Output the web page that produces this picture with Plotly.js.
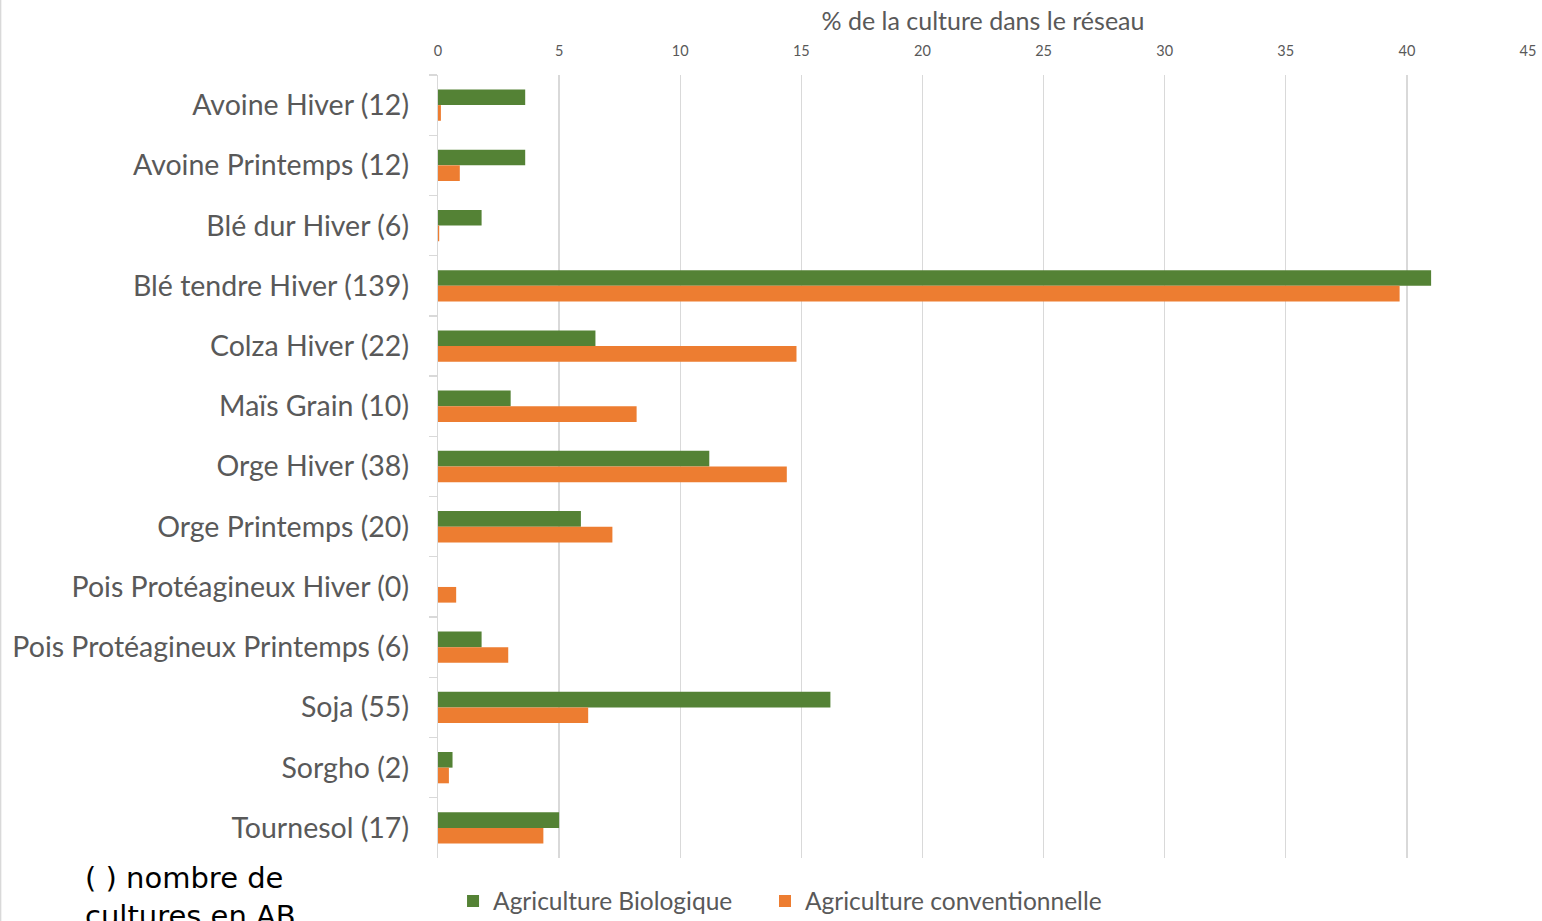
<!DOCTYPE html>
<html>
<head>
<meta charset="utf-8">
<script src="https://cdn.plot.ly/plotly-3.0.1.min.js"></script>
<style>html,body{margin:0;padding:0;background:#fff;}#chart{width:1542px;height:921px;}</style>
</head>
<body>
<div id="chart"></div>
<script>
const categories = [
  "Avoine Hiver (12)",
  "Avoine Printemps (12)",
  "Blé dur Hiver (6)",
  "Blé tendre Hiver (139)",
  "Colza Hiver (22)",
  "Maïs Grain (10)",
  "Orge Hiver (38)",
  "Orge Printemps (20)",
  "Pois Protéagineux Hiver (0)",
  "Pois Protéagineux Printemps (6)",
  "Soja (55)",
  "Sorgho (2)",
  "Tournesol (17)"
];
const bioValues = [3.6, 3.6, 1.8, 41.0, 6.5, 3.0, 11.2, 5.9, 0, 1.8, 16.2, 0.6, 5.0];
const convValues = [0.12, 0.9, 0.05, 39.7, 14.8, 8.2, 14.4, 7.2, 0.75, 2.9, 6.2, 0.45, 4.35];
const seriesNames = ["Agriculture Biologique", "Agriculture conventionnelle"];
const xTicks = [0, 5, 10, 15, 20, 25, 30, 35, 40, 45];

const traces = [
  {type: "bar", orientation: "h", name: seriesNames[0], y: categories, x: bioValues,
   marker: {color: "#548235"}, hoverinfo: "x+y", legend: "legend"},
  {type: "bar", orientation: "h", name: seriesNames[1], y: categories, x: convValues,
   marker: {color: "#ED7D31"}, hoverinfo: "x+y", legend: "legend2"}
];

const gray = "#595959";
const legendBase = {orientation: "h", xanchor: "left", y: -0.0549, yanchor: "middle",
                    font: {size: 24.5, color: gray}, itemwidth: 30, bgcolor: "rgba(0,0,0,0)"};
const layout = {
  width: 1542, height: 921,
  margin: {l: 438, r: 14, t: 75, b: 63, autoexpand: false},
  paper_bgcolor: "#fff", plot_bgcolor: "#fff",
  barmode: "group", bargap: 0.48, bargroupgap: 0,
  font: {family: "Lato, 'Open Sans', sans-serif", color: gray},
  xaxis: {
    side: "top", range: [0, 45], tickvals: xTicks, ticktext: xTicks.map(String),
    showgrid: true, gridcolor: "#d9d9d9", gridwidth: 1.3, zeroline: false,
    showline: false, ticks: "", tickfont: {size: 14.5, color: gray}, ticklabelstandoff: 15,
    title: {text: "% de la culture dans le réseau", font: {size: 25, color: gray}, standoff: 4},
    automargin: false, fixedrange: true
  },
  yaxis: {
    type: "category", autorange: "reversed", showgrid: false, zeroline: false,
    showline: true, linecolor: "#d9d9d9", linewidth: 1.3,
    ticks: "outside", tickson: "boundaries", ticklen: 8, tickcolor: "#d9d9d9", tickwidth: 1.3,
    tickfont: {size: 28.5, color: gray}, ticklabelstandoff: 22, automargin: false, fixedrange: true
  },
  showlegend: true,
  legend: Object.assign({}, legendBase, {x: 0.0138}),
  legend2: Object.assign({}, legendBase, {x: 0.3}),
  annotations: [{
    xref: "paper", yref: "paper", x: -0.326, y: -0.0015, xanchor: "left", yanchor: "top",
    text: "( ) nombre de<br>cultures en AB", showarrow: false, align: "left",
    font: {family: "DejaVu Sans, Verdana, sans-serif", size: 29, color: "#000"}
  }],
  shapes: [{type: "line", xref: "paper", yref: "paper", x0: -0.4013, x1: -0.4013, y0: -0.1, y1: 1.1,
            line: {color: "#d9d9d9", width: 1.5}}]
};

Plotly.newPlot("chart", traces, layout, {displayModeBar: false, staticPlot: true});
</script>
</body>
</html>
